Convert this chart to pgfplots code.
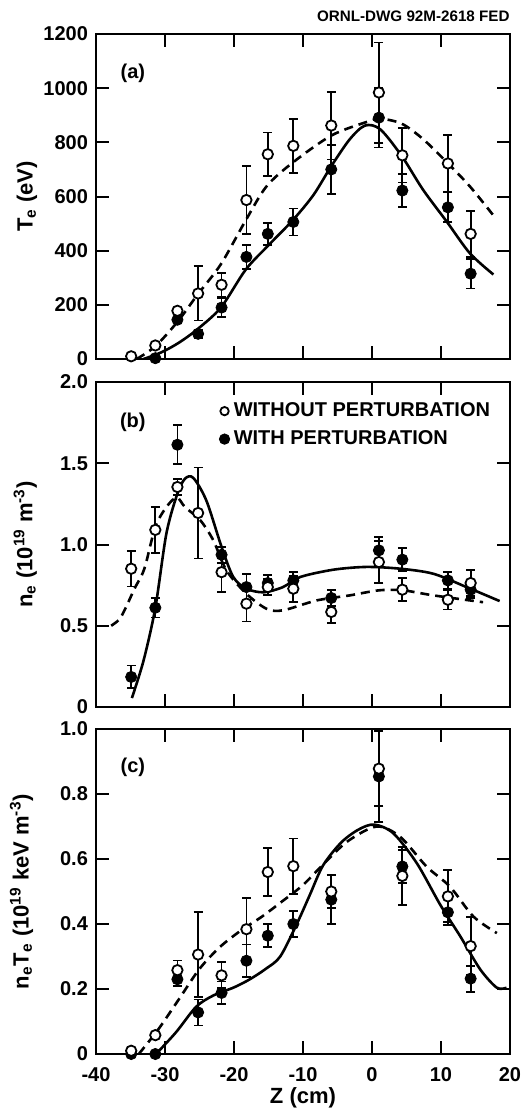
\documentclass[border=0pt]{standalone}
\usepackage{fontspec}
\setmainfont{Liberation Sans}
\usepackage{pgfplots}
\pgfplotsset{compat=1.18}
\usepackage{pgfplotstable}

% ---------- panel (a): Te ----------
\pgfplotstableread{
x y e
-34.9 10 4
-31.4 50 8
-28.2 178 10
-25.2 242 100
-21.8 274 45
-18.2 587 125
-15.1 756 80
-11.4 787 100
-5.9 862 125
1.0 984 185
4.4 752 100
11.0 722 105
14.3 462 85
}\aOpen
\pgfplotstableread{
x y e
-31.4 3 4
-28.2 145 10
-25.2 93 15
-21.8 190 35
-18.2 377 45
-15.1 462 40
-11.4 506 50
-5.9 700 90
1.0 891 110
4.4 622 60
11.0 560 55
14.3 315 55
}\aFilled
% ---------- panel (b): ne ----------
\pgfplotstableread{
x y e
-34.9 0.851 0.11
-31.4 1.09 0.14
-28.2 1.354 0.05
-25.2 1.194 0.28
-21.8 0.83 0.12
-18.2 0.636 0.11
-15.1 0.738 0.05
-11.4 0.728 0.08
-5.9 0.585 0.07
1.0 0.892 0.13
4.4 0.722 0.07
11.0 0.66 0.06
14.3 0.763 0.08
}\bOpen
\pgfplotstableread{
x y e
-34.9 0.185 0.07
-31.4 0.611 0.06
-28.2 1.614 0.12
-21.8 0.937 0.05
-18.2 0.738 0.08
-15.1 0.763 0.05
-11.4 0.779 0.05
-5.9 0.671 0.05
1.0 0.964 0.08
4.4 0.907 0.07
11.0 0.779 0.05
14.3 0.722 0.05
}\bFilled
% ---------- panel (c): neTe ----------
\pgfplotstableread{
x y e
-34.9 0.01 0.005
-31.4 0.058 0.005
-28.2 0.258 0.03
-25.2 0.306 0.13
-21.8 0.242 0.04
-18.2 0.384 0.095
-15.1 0.56 0.075
-11.4 0.578 0.085
-5.9 0.50 0.05
1.0 0.878 0.115
4.4 0.548 0.09
11.0 0.485 0.08
14.3 0.332 0.09
}\cOpen
\pgfplotstableread{
x y e
-34.9 0.0 0.005
-31.4 0.0 0.005
-28.2 0.23 0.02
-25.2 0.128 0.04
-21.8 0.188 0.035
-18.2 0.287 0.05
-15.1 0.364 0.035
-11.4 0.40 0.04
-5.9 0.475 0.075
1.0 0.854 0.14
4.4 0.577 0.05
11.0 0.436 0.04
14.3 0.232 0.04
}\cFilled

\pgfplotsset{
  panel/.style={
    scale only axis, width=207pt, height=162.5pt,
    anchor=north west,
    xmin=-40, xmax=20, xtick={-40,-30,-20,-10,0,10,20},
    tick align=inside, major tick length=6.5pt,
    axis line style={line width=1pt},
    tick style={line width=1pt, black},
    ticklabel style={font=\fontsize{10}{12}\bfseries\selectfont},
    yticklabel style={xshift=-0.5pt},
    label style={font=\fontsize{11}{13}\bfseries\selectfont},
    /pgf/number format/assume math mode=true,
  },
  openpt/.style={only marks, mark=*, mark size=2.6pt,
    mark options={fill=white, draw=black, line width=0.9pt},
    error bars/y dir=both, error bars/y explicit,
    error bars/error bar style={line width=0.9pt, black},
    error bars/error mark options={rotate=90, mark size=2.2pt, line width=0.9pt, black}},
  fillpt/.style={only marks, mark=*, mark size=2.8pt,
    mark options={fill=black, draw=black},
    error bars/y dir=both, error bars/y explicit,
    error bars/error bar style={line width=0.9pt, black},
    error bars/error mark options={rotate=90, mark size=2.2pt, line width=0.9pt, black}},
  solidc/.style={black, line width=1.3pt, smooth, mark=none},
  dashc/.style={black, line width=1.3pt, smooth, mark=none, dash pattern=on 4.5pt off 3pt},
}

\begin{document}
\begin{tikzpicture}
\useasboundingbox (-48pt,17pt) rectangle (215.5pt,-540.5pt);

% ================= (a) =================
\begin{axis}[panel, name=a, at={(0pt,0pt)},
  ymin=0, ymax=1200, ytick={0,200,...,1200},
  yticklabels={0,200,400,600,800,1000,1200},
  xticklabels={},
  ylabel={T\textsubscript{e} (eV)},
  ylabel style={at={(axis description cs:-0.167,0.5)}, anchor=center},
]
\addplot[solidc] coordinates {(-33.1,0) (-30.5,25) (-28,60) (-25.3,110) (-21.9,190) (-18.3,330) (-15,420) (-11.5,512) (-8.5,605) (-5.9,712) (-3.2,812) (-1,862) (1.2,848) (4.3,750) (7.4,625) (10.9,505) (14.2,390) (17.6,312)};
\addplot[dashc] coordinates {(-34.1,0) (-31.4,47) (-28.2,137) (-25.3,237) (-21.9,350) (-18.3,512) (-15.3,637) (-11.5,725) (-5.9,825) (-0.8,875) (1.2,887) (4.3,869) (7.4,812) (10.9,725) (14.2,637) (17.6,530)};
\addplot[fillpt] table[x=x, y=y, y error=e] {\aFilled};
\addplot[openpt] table[x=x, y=y, y error=e] {\aOpen};
\node[font=\fontsize{10}{12}\bfseries\selectfont] at (rel axis cs:0.089,0.88) {(a)};
\end{axis}
\node[anchor=east, font=\fontsize{7.6}{9}\bfseries\selectfont, inner sep=0pt] at ([yshift=9pt]a.north east) {ORNL-DWG 92M-2618 FED};

% ================= (b) =================
\begin{axis}[panel, name=b, at={(0pt,-174pt)},
  ymin=0, ymax=2, ytick={0,0.5,1,1.5,2},
  yticklabels={0,0.5,1.0,1.5,2.0},
  xticklabels={},
  ylabel={n\textsubscript{e} (10\textsuperscript{19} m\textsuperscript{-3})},
  ylabel style={at={(axis description cs:-0.171,0.5)}, anchor=center},
  legend style={at={(0.297,0.95)}, anchor=north west, draw=none, fill=none,
    font=\fontsize{10}{12}\bfseries\selectfont, inner sep=0pt, row sep=1.5pt},
  legend cell align=left,
]
\addlegendimage{only marks, mark=*, mark size=2.1pt, mark options={fill=white, draw=black, line width=0.9pt}}
\addlegendentry{WITHOUT PERTURBATION}
\addlegendimage{only marks, mark=*, mark size=2.6pt, mark options={fill=black, draw=black}}
\addlegendentry{WITH PERTURBATION}
\addplot[solidc, forget plot] coordinates {(-34.8,0.055) (-33.1,0.287) (-31.4,0.611) (-29.8,1.067) (-28.2,1.313) (-27.1,1.405) (-25.9,1.41) (-24.0,1.27) (-21.8,0.985) (-20.1,0.8) (-18.2,0.728) (-15.7,0.706) (-12.9,0.738) (-10.4,0.8) (-5.6,0.845) (-0.8,0.862) (4.1,0.851) (8.9,0.82) (13.7,0.738) (18.5,0.652)};
\addplot[dashc, forget plot] coordinates {(-37.8,0.5) (-36.6,0.54) (-35.7,0.61) (-34.4,0.73) (-33.0,0.85) (-31.4,1.108) (-29.8,1.23) (-28.3,1.29) (-27.1,1.23) (-24.9,1.15) (-23.0,1.026) (-21.1,0.841) (-18.2,0.697) (-15.3,0.605) (-12.9,0.595) (-8.0,0.656) (-3.2,0.687) (1.0,0.718) (4.5,0.718) (8.9,0.687) (16.1,0.645)};
\addplot[fillpt, forget plot] table[x=x, y=y, y error=e] {\bFilled};
\addplot[openpt, forget plot] table[x=x, y=y, y error=e] {\bOpen};
\node[font=\fontsize{10}{12}\bfseries\selectfont] at (rel axis cs:0.089,0.877) {(b)};
\end{axis}

% ================= (c) =================
\begin{axis}[panel, name=c, at={(0pt,-347.5pt)},
  ymin=0, ymax=1, ytick={0,0.2,0.4,0.6,0.8,1},
  yticklabels={0,0.2,0.4,0.6,0.8,1.0},
  xticklabels={-40,-30,-20,-10,0,10,20},
  xticklabel style={yshift=-3pt},
  xlabel={Z (cm)},
  xlabel style={at={(axis description cs:0.5,-0.135)}, anchor=center},
  ylabel={n\textsubscript{e}T\textsubscript{e} (10\textsuperscript{19} keV m\textsuperscript{-3})},
  ylabel style={at={(axis description cs:-0.18,0.5)}, anchor=center},
]
\addplot[solidc] coordinates {(-31.3,0) (-28.4,0.067) (-25.5,0.145) (-23,0.18) (-20,0.205) (-17.7,0.23) (-15.4,0.262) (-13.3,0.30) (-10.9,0.40) (-9,0.49) (-7.1,0.58) (-4.5,0.65) (-2,0.69) (0.3,0.706) (3.1,0.679) (6.5,0.587) (9.9,0.459) (12.8,0.362) (15.7,0.26) (18.1,0.204) (19.5,0.204)};
\addplot[dashc] coordinates {(-33.8,0) (-31,0.075) (-28,0.168) (-25,0.262) (-22,0.33) (-19,0.38) (-16,0.422) (-13,0.47) (-10,0.52) (-7,0.585) (-3.5,0.655) (0.7,0.70) (4.1,0.668) (7.9,0.577) (11.3,0.515) (14.7,0.423) (18.1,0.372)};
\addplot[fillpt] table[x=x, y=y, y error=e] {\cFilled};
\addplot[openpt] table[x=x, y=y, y error=e] {\cOpen};
\node[font=\fontsize{10}{12}\bfseries\selectfont] at (rel axis cs:0.089,0.883) {(c)};
\end{axis}
\end{tikzpicture}
\end{document}
